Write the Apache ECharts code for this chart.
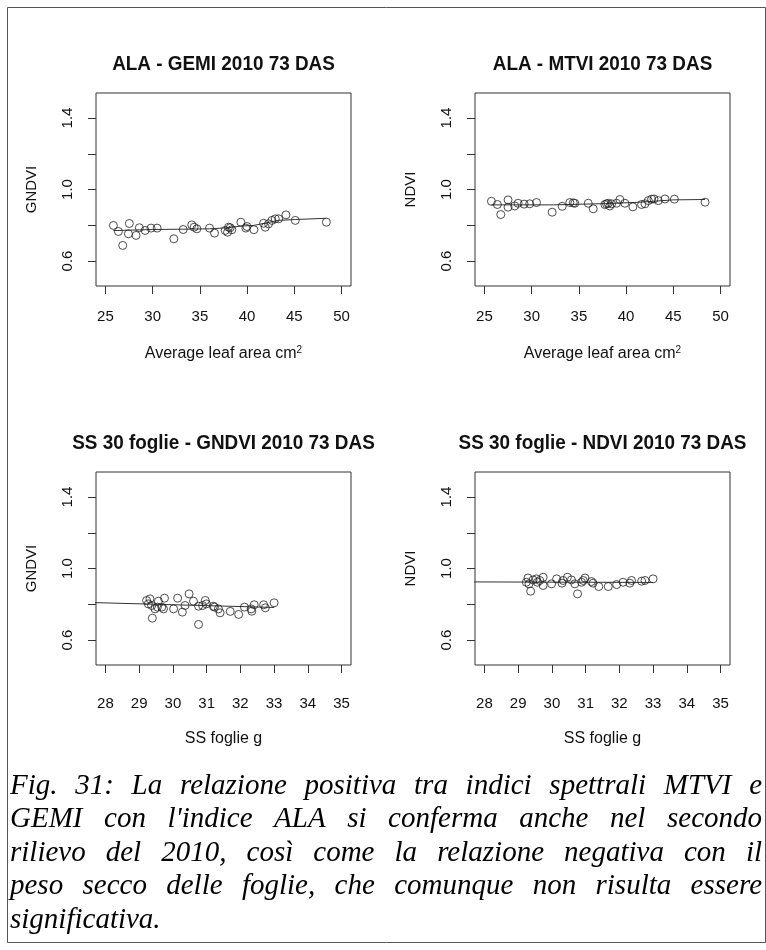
<!DOCTYPE html>
<html>
<head>
<meta charset="utf-8">
<script src="https://cdn.jsdelivr.net/npm/echarts@6/dist/echarts.min.js"></script>
<style>
html,body{margin:0;padding:0;background:#fff;}
#c{width:766px;height:950px;}
</style>
</head>
<body>
<div id="c"></div>
<script>
// ---------- DATA ----------
const panelTitles = ['ALA - GEMI 2010 73 DAS', 'ALA - MTVI 2010 73 DAS',
                     'SS 30 foglie - GNDVI 2010 73 DAS', 'SS 30 foglie - NDVI 2010 73 DAS'];
const yNames = ['GNDVI', 'NDVI', 'GNDVI', 'NDVI'];
const xNameALA = 'Average leaf area cm{s|2}';
const xNameSS = 'SS foglie g';

const xTicksALA = [25, 30, 35, 40, 45, 50];
const xTicksSS = [28, 29, 30, 31, 32, 33, 34, 35];
const yTicks = [0.6, 0.8, 1.0, 1.2, 1.4];
const yTickLabels = [0.6, 1.0, 1.4];

// Panel 1: ALA vs GNDVI (GEMI)
const gemiAlaX = [25.84,26.37,26.83,27.53,27.43,28.24,28.59,29.20,29.83,30.47,32.24,33.23,34.14,34.39,34.68,36.02,36.55,37.68,37.93,38.03,38.21,38.39,39.34,39.87,39.98,40.72,41.74,41.92,42.27,42.63,42.98,43.34,44.11,45.10,48.39];
const gemiGndviY = [0.799,0.765,0.687,0.810,0.752,0.743,0.786,0.771,0.784,0.784,0.724,0.776,0.802,0.789,0.780,0.784,0.756,0.771,0.761,0.789,0.786,0.775,0.817,0.784,0.793,0.775,0.811,0.789,0.808,0.827,0.836,0.836,0.858,0.827,0.817];
const gemiFitX = [25.84,30.0,33.2,36.0,38.0,39.3,40.7,42.1,43.3,45.1,48.39];
const gemiFitY = [0.770,0.776,0.778,0.780,0.786,0.795,0.799,0.814,0.827,0.832,0.839];

// Panel 2: ALA vs NDVI (MTVI)
const mtviAlaX = [25.74,26.37,26.73,27.50,27.50,28.21,28.56,29.20,29.80,30.51,32.17,33.23,34.04,34.40,34.57,35.99,36.52,37.75,37.93,38.11,38.28,38.46,38.99,39.34,39.87,40.72,41.64,42.00,42.35,42.70,42.95,43.41,44.12,45.11,48.36];
const mtviNdviY = [0.934,0.916,0.860,0.942,0.901,0.908,0.923,0.918,0.920,0.927,0.873,0.906,0.927,0.925,0.923,0.923,0.892,0.916,0.920,0.923,0.908,0.920,0.923,0.944,0.923,0.903,0.916,0.920,0.938,0.946,0.947,0.938,0.947,0.946,0.929];
const mtviFitX = [25.74,32.3,37.8,41.5,45.0,48.36];
const mtviFitY = [0.914,0.914,0.921,0.929,0.942,0.944];

// Panel 3: SS foglie vs GNDVI
const ssGndviX = [29.22,29.27,29.32,29.37,29.39,29.47,29.54,29.57,29.67,29.72,29.75,30.02,30.14,30.28,30.36,30.48,30.61,30.76,30.76,30.88,30.96,30.99,31.20,31.23,31.35,31.40,31.70,31.95,32.12,32.32,32.34,32.41,32.69,32.74,33.00];
const ssGndviY = [0.821,0.802,0.830,0.793,0.722,0.774,0.784,0.817,0.784,0.774,0.834,0.774,0.834,0.756,0.793,0.858,0.817,0.789,0.687,0.793,0.821,0.802,0.789,0.784,0.774,0.752,0.760,0.743,0.784,0.774,0.761,0.797,0.797,0.780,0.808];
const ssGndviFitX = [27.5, 33.0];
const ssGndviFitY = [0.810, 0.782];

// Panel 4: SS foglie vs NDVI
const ssNdviX = [29.24,29.29,29.32,29.37,29.44,29.54,29.57,29.64,29.74,29.74,29.99,30.14,30.30,30.33,30.46,30.58,30.68,30.76,30.88,30.93,30.98,31.17,31.22,31.39,31.67,31.92,32.11,32.31,32.36,32.66,32.76,33.00];
const ssNdviY = [0.923,0.947,0.914,0.873,0.936,0.942,0.923,0.933,0.951,0.905,0.914,0.942,0.918,0.933,0.951,0.936,0.914,0.858,0.923,0.933,0.947,0.927,0.918,0.899,0.899,0.910,0.923,0.918,0.933,0.929,0.933,0.942];
const ssNdviFitX = [27.5, 33.0];
const ssNdviFitY = [0.925, 0.922];

const captionLines = [
  'Fig. 31: La relazione positiva tra indici spettrali MTVI e',
  "GEMI con l'indice ALA si conferma anche nel secondo",
  'rilievo del 2010, così come la relazione negativa con il',
  'peso secco delle foglie, che comunque non risulta essere',
  'significativa.'
];

// ---------- LAYOUT ----------
const SANS = '"Liberation Sans", Arial, sans-serif';
const grids = [
  {left: 96, top: 93, width: 255, height: 193},
  {left: 475, top: 93, width: 255, height: 193},
  {left: 96, top: 472, width: 255, height: 193},
  {left: 475, top: 472, width: 255, height: 193}
];
const xRanges = [[24, 51], [24, 51], [27.72, 35.28], [27.72, 35.28]];
const xTicksAll = [xTicksALA, xTicksALA, xTicksSS, xTicksSS];
const xNames = [xNameALA, xNameALA, xNameSS, xNameSS];
const scatterX = [gemiAlaX, mtviAlaX, ssGndviX, ssNdviX];
const scatterY = [gemiGndviY, mtviNdviY, ssGndviY, ssNdviY];
const fitX = [gemiFitX, mtviFitX, ssGndviFitX, ssNdviFitX];
const fitY = [gemiFitY, mtviFitY, ssGndviFitY, ssNdviFitY];

const zip = (a, b) => a.map((v, i) => [v, b[i]]);

const xAxes = [], yAxes = [], series = [], graphic = [];
for (let i = 0; i < 4; i++) {
  xAxes.push({
    type: 'value', gridIndex: i, min: xRanges[i][0], max: xRanges[i][1],
    axisLine: {show: false, onZero: false},
    splitLine: {show: false},
    axisTick: {show: true, inside: false, length: 8, customValues: xTicksAll[i], lineStyle: {color: '#333', width: 1}},
    axisLabel: {customValues: xTicksAll[i], margin: i < 2 ? 23 : 31, color: '#111', fontFamily: SANS, fontSize: 15},
    name: xNames[i], nameLocation: 'middle', nameGap: i < 2 ? 59 : 65,
    nameTextStyle: {color: '#111', fontFamily: SANS, fontSize: 16, lineHeight: 18,
      rich: {s: {fontSize: 10, fontFamily: SANS, color: '#111', verticalAlign: 'top', lineHeight: 10}}}
  });
  yAxes.push({
    type: 'value', gridIndex: i, min: 0.46, max: 1.54,
    axisLine: {show: false, onZero: false},
    splitLine: {show: false},
    axisTick: {show: true, inside: false, length: 8, customValues: yTicks, lineStyle: {color: '#333', width: 1}},
    axisLabel: {customValues: yTickLabels, rotate: 90, margin: 21, color: '#111', fontFamily: SANS, fontSize: 15,
      formatter: v => Number(v).toFixed(1)},
    name: yNames[i], nameLocation: 'middle', nameGap: 57, nameRotate: 90,
    nameTextStyle: {color: '#111', fontFamily: SANS, fontSize: 15}
  });
  series.push({
    type: 'line', xAxisIndex: i, yAxisIndex: i, data: zip(fitX[i], fitY[i]),
    showSymbol: false, symbol: 'none', clip: true, silent: true,
    lineStyle: {color: '#333', width: 1}, z: 2
  });
  series.push({
    type: 'scatter', xAxisIndex: i, yAxisIndex: i, data: zip(scatterX[i], scatterY[i]),
    symbol: 'circle', symbolSize: 8, silent: true,
    itemStyle: {color: 'rgba(0,0,0,0)', borderColor: '#222', borderWidth: 1}, z: 3
  });
  const g = grids[i];
  graphic.push({
    type: 'text', x: g.left + g.width / 2, y: i < 2 ? 64 : 443, scaleX: 0.9,
    style: {text: panelTitles[i], fontFamily: SANS, fontWeight: 'bold', fontSize: 21,
      fill: '#111', align: 'center', verticalAlign: 'middle'}
  });
}

// Outer frame
graphic.push({
  type: 'rect', shape: {x: 7.5, y: 7.5, width: 758, height: 935},
  style: {fill: 'none', stroke: '#555', lineWidth: 1}, silent: true
});

// Caption, justified
const CAP_FAMILY = '"Liberation Serif", "Times New Roman", serif';
const CAP_SIZE = 29;
const capLeft = 10, capRight = 762, capTop = 786, capLineH = 33.5;
const ctx = document.createElement('canvas').getContext('2d');
ctx.font = 'italic ' + CAP_SIZE + 'px ' + CAP_FAMILY;
const spaceW = ctx.measureText(' ').width;
captionLines.forEach((line, i) => {
  const words = line.split(' ');
  const widths = words.map(w => ctx.measureText(w).width);
  const total = widths.reduce((a, b) => a + b, 0);
  const justify = i < captionLines.length - 1 && words.length > 1;
  const gap = justify ? (capRight - capLeft - total) / (words.length - 1) : spaceW;
  let x = capLeft;
  words.forEach((w, j) => {
    graphic.push({
      type: 'text', x: x, y: capTop + i * capLineH, silent: true,
      style: {text: w, fontFamily: CAP_FAMILY, fontStyle: 'italic', fontSize: CAP_SIZE,
        fill: '#000', align: 'left', verticalAlign: 'middle'}
    });
    x += widths[j] + gap;
  });
});

const chart = echarts.init(document.getElementById('c'), null, {renderer: 'canvas'});
chart.setOption({
  animation: false,
  backgroundColor: '#fff',
  grid: grids.map(g => Object.assign({show: true, borderColor: '#333', borderWidth: 1, backgroundColor: 'transparent', containLabel: false}, g)),
  xAxis: xAxes,
  yAxis: yAxes,
  series: series,
  graphic: graphic
});
</script>
</body>
</html>
